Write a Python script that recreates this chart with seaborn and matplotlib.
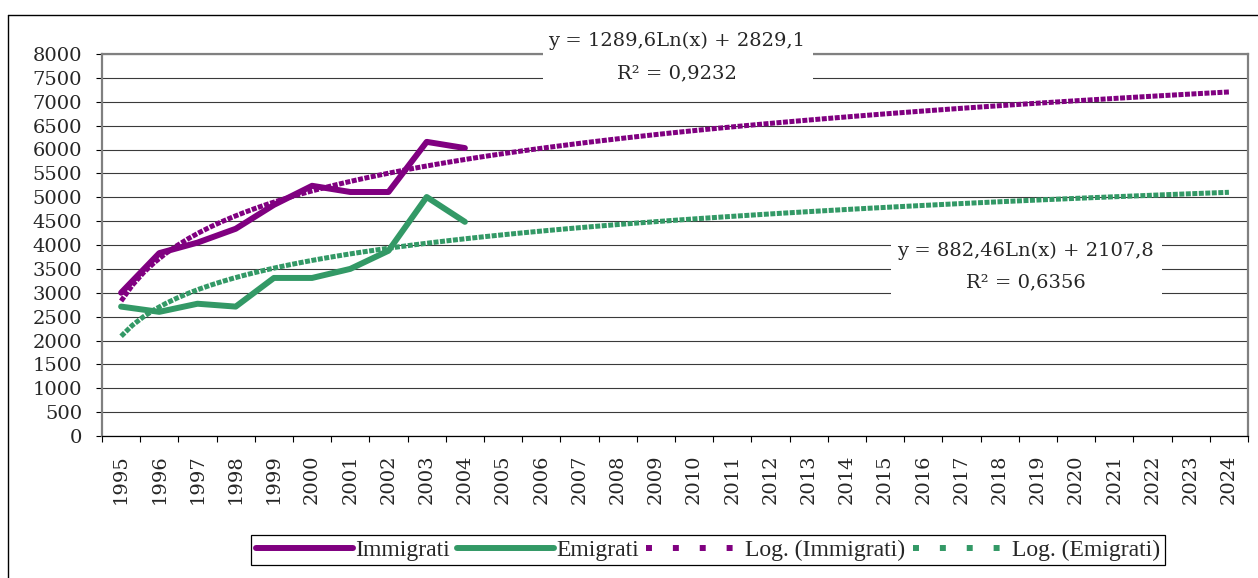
import numpy as np
import pandas as pd
import seaborn as sns
import matplotlib.pyplot as plt
from matplotlib.lines import Line2D
from matplotlib.patches import Rectangle

# asse delle categorie (1995-2024) e dati osservati (1995-2004)
anni = [str(a) for a in range(1995, 2025)]
anni_dati = ["1995", "1996", "1997", "1998", "1999", "2000", "2001", "2002", "2003", "2004"]
immigrati = [3000, 3830, 4050, 4340, 4840, 5240, 5110, 5110, 6160, 6030]
emigrati = [2710, 2600, 2770, 2710, 3310, 3310, 3500, 3880, 5005, 4485]

eq_imm = ["y = 1289,6Ln(x) + 2829,1", "R² = 0,9232"]
eq_emi = ["y = 882,46Ln(x) + 2107,8", "R² = 0,6356"]

viola = "#800080"
verde = "#339966"

sns.set_style("white")
plt.rcParams["font.family"] = ["DejaVu Serif"]

W, H = 1258, 578


def fx(px):
    return px / W


def fy(py):
    return 1 - py / H


df = pd.DataFrame({"anno": anni_dati, "Immigrati": immigrati, "Emigrati": emigrati})
df["pos"] = [anni.index(a) + 1 for a in df["anno"]]

fig = plt.figure(figsize=(W / 100, H / 100), dpi=100)
ax = fig.add_axes([fx(102), fy(436), (1248 - 102) / W, (436 - 54) / H])

sns.lineplot(data=df, x="pos", y="Immigrati", color=viola, lw=4.3, ax=ax)
sns.lineplot(data=df, x="pos", y="Emigrati", color=verde, lw=4.3, ax=ax)

# linee di tendenza logaritmiche, estese fino al 2024
ax.set_xlim(1, len(anni))
dot = (0, (1, 0.3))
sns.regplot(data=df, x="pos", y="Immigrati", logx=True, ci=None, scatter=False,
            truncate=False, ax=ax,
            line_kws=dict(color=viola, lw=3.6, linestyle=dot, dash_capstyle="butt"))
sns.regplot(data=df, x="pos", y="Emigrati", logx=True, ci=None, scatter=False,
            truncate=False, ax=ax,
            line_kws=dict(color=verde, lw=3.6, linestyle=dot, dash_capstyle="butt"))

ax.set_xlim(0.5, len(anni) + 0.5)
ax.set_ylim(0, 8000)
ax.set_yticks(np.arange(0, 8001, 500))
ax.set_xticks(np.arange(1, len(anni) + 1), labels=anni, rotation=90)
ax.set_xticks(np.arange(0.5, len(anni) + 1, 1), minor=True)
ax.tick_params(axis="x", which="major", length=0, pad=13, labelsize=14)
ax.tick_params(axis="x", which="minor", length=4.3, width=0.8, color="black", bottom=True)
ax.tick_params(axis="y", length=4.3, width=0.8, color="black", left=True, pad=10, labelsize=14)
ax.set_xlabel("")
ax.set_ylabel("")

ax.yaxis.grid(True, color="#3a3a3a", lw=0.8)
ax.xaxis.grid(False)
ax.set_axisbelow(True)
for s in ["left", "top", "right"]:
    ax.spines[s].set_color("#808080")
    ax.spines[s].set_linewidth(1.6)
ax.spines["bottom"].set_color("black")
ax.spines["bottom"].set_linewidth(0.9)

# riquadri bianchi delle equazioni
fig.add_artist(Rectangle((fx(543), fy(90)), (813 - 543) / W, (90 - 27) / H,
                         transform=fig.transFigure, facecolor="white", edgecolor="none", zorder=3))
fig.text(fx(677), fy(41), eq_imm[0], ha="center", va="center", fontsize=14, zorder=4)
fig.text(fx(677), fy(73), eq_imm[1], ha="center", va="center", fontsize=14, zorder=4)

fig.add_artist(Rectangle((fx(891), fy(297)), (1162 - 891) / W, (297 - 237) / H,
                         transform=fig.transFigure, facecolor="white", edgecolor="none", zorder=3))
fig.text(fx(1025), fy(251), eq_emi[0], ha="center", va="center", fontsize=14, zorder=4)
fig.text(fx(1026), fy(282), eq_emi[1], ha="center", va="center", fontsize=14, zorder=4)

# cornice esterna del grafico
fig.add_artist(Line2D([fx(8), fx(8)], [fy(15), 0], transform=fig.transFigure, color="black", lw=1))
fig.add_artist(Line2D([fx(8), 1], [fy(15), fy(15)], transform=fig.transFigure, color="black", lw=1))

handles = [
    Line2D([], [], color=viola, lw=4.3),
    Line2D([], [], color=verde, lw=4.3),
    Line2D([], [], color=viola, lw=4.3, linestyle=(0, (1, 3.5)), dash_capstyle="butt"),
    Line2D([], [], color=verde, lw=4.3, linestyle=(0, (1, 3.5)), dash_capstyle="butt"),
]
labels = ["Immigrati", "Emigrati", "Log. (Immigrati)", "Log. (Emigrati)"]
leg = fig.legend(handles, labels, loc="center", bbox_to_anchor=(fx(708), fy(550)), ncol=4,
                 frameon=True, fancybox=False, edgecolor="black", framealpha=1,
                 prop={"family": "Liberation Serif", "size": 17},
                 handlelength=4.1, handletextpad=0.1, columnspacing=0.3,
                 borderpad=0.2, borderaxespad=0)
leg.get_frame().set_linewidth(0.9)

fig.savefig("out.png", dpi=100)
